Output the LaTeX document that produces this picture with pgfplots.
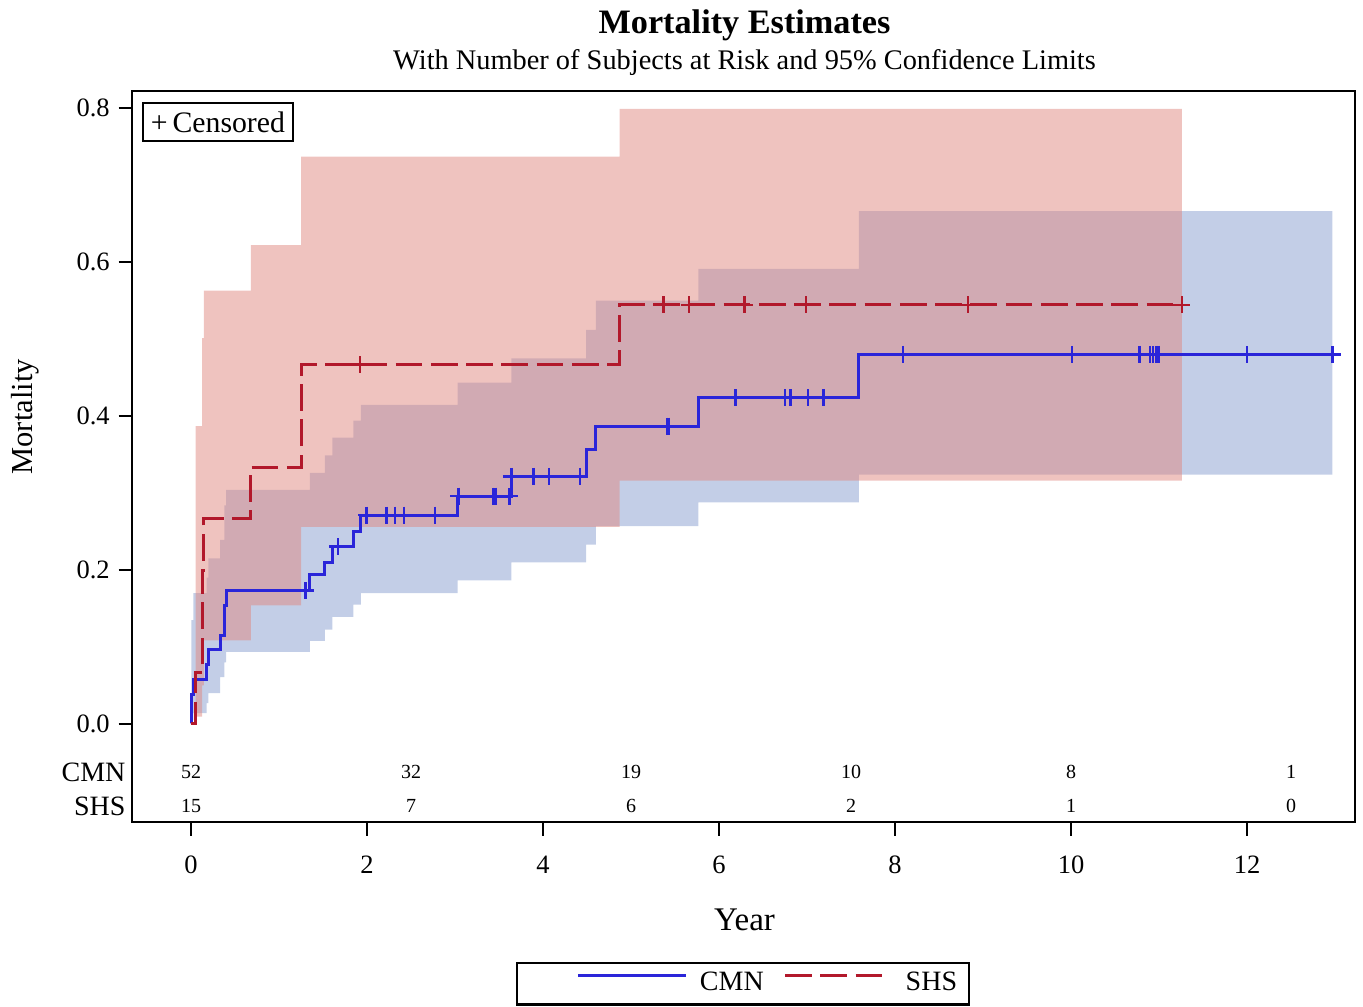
\documentclass[border=0pt]{standalone}
\usepackage{fontspec}
\setmainfont{Liberation Serif}
\usepackage{pgfplots}
\pgfplotsset{compat=1.18}
\usepgfplotslibrary{fillbetween}
\definecolor{cmnline}{RGB}{42,37,217}
\definecolor{shsline}{RGB}{178,24,43}
\definecolor{cmnband}{rgb}{0.53,0.62,0.81}
\definecolor{shsband}{rgb}{0.88,0.53,0.50}
\pgfplotsset{
  cmnleg/.style={legend image code/.code={\path (-19.2pt,0pt); \draw[##1] (0pt,3.4pt) -- (43.2pt,3.4pt); \path (48pt,0pt);}},
  shsleg/.style={legend image code/.code={\path (-8pt,0pt); \draw[##1] (0pt,3.4pt) -- (39.6pt,3.4pt); \path (47.6pt,0pt);}},
}
\begin{document}
\begin{tikzpicture}
\begin{axis}[
  name=main,
  width=489.2pt, height=292.4pt, scale only axis,
  xmin=-0.6705, xmax=13.227, ymin=-0.1273, ymax=0.8221,
  xtick={0,2,4,6,8,10,12}, ytick={0,0.2,0.4,0.6,0.8},
  tick pos=left, tick align=outside, major tick length=5.4pt,
  axis line style={line width=0.85pt},
  every tick/.style={black, line width=0.75pt},
  /pgf/number format/assume math mode=true,
  yticklabel style={/pgf/number format/fixed, /pgf/number format/precision=1, /pgf/number format/fixed zerofill},
  xticklabel style={yshift=-4.8pt},
  ticklabel style={font=\fontsize{10.6}{12}\selectfont},
  clip=false,
  legend columns=2,
  legend style={at={(0.4996,-0.2215)}, anchor=center, draw=black, line width=1.1pt,
    inner xsep=4.8pt, inner ysep=3.1pt, column sep=0pt,
    nodes={inner sep=0pt, text height=8pt, text depth=2.5pt, font=\fontsize{11.2}{13}\selectfont}},
]
% ---- CMN band ----
\addplot[name path=bu, draw=none, const plot, forget plot] coordinates {
(0.003,0.135) (0.026,0.17) (0.178,0.19) (0.197,0.215) (0.33,0.239) (0.38,0.284) (0.40,0.304)
(1.35,0.326) (1.52,0.349) (1.606,0.372) (1.845,0.394) (1.93,0.4145) (3.03,0.4435) (3.64,0.475)
(4.49,0.512) (4.60,0.550) (5.765,0.591) (7.59,0.666) (12.97,0.666)};
\addplot[name path=bl, draw=none, const plot, forget plot] coordinates {
(0.003,0.005) (0.026,0.014) (0.178,0.027) (0.197,0.040) (0.33,0.061) (0.38,0.080) (0.40,0.0936)
(1.35,0.108) (1.52,0.1226) (1.606,0.139) (1.845,0.155) (1.93,0.170) (3.03,0.1866) (3.64,0.210)
(4.49,0.233) (4.60,0.257) (5.765,0.2877) (7.59,0.324) (12.97,0.324)};
\addplot[fill=cmnband, fill opacity=0.5, draw=none, forget plot] fill between[of=bu and bl];
% ---- SHS band ----
\addplot[name path=ru, draw=none, const plot, forget plot] coordinates {
(0.053,0.387) (0.125,0.501) (0.145,0.563) (0.68,0.622) (1.25,0.737) (4.87,0.799) (11.26,0.799)};
\addplot[name path=rl, draw=none, const plot, forget plot] coordinates {
(0.053,0.0095) (0.125,0.05) (0.145,0.1085) (0.68,0.154) (1.25,0.256) (4.87,0.316) (11.26,0.316)};
\addplot[fill=shsband, fill opacity=0.5, draw=none, forget plot] fill between[of=ru and rl];
% ---- CMN line ----
\addplot[cmnline, line width=1.2pt, const plot, mark=none, cmnleg]
coordinates {
(0,0) (0.003,0.0385) (0.026,0.0577) (0.178,0.0769) (0.197,0.0962) (0.33,0.1154) (0.38,0.1538)
(0.40,0.1731) (1.35,0.1938) (1.52,0.2101) (1.606,0.2304) (1.845,0.2495) (1.93,0.2714) (3.03,0.296)
(3.64,0.3216) (4.49,0.356) (4.60,0.387) (5.765,0.4237) (7.59,0.480) (12.97,0.480)};
\addlegendentry{CMN}
% ---- SHS line ----
\addplot[shsline, line width=1.2pt, const plot, mark=none, dash pattern=on 10.7pt off 3.4pt, shsleg]
coordinates {
(0,0) (0.053,0.0667) (0.125,0.2) (0.145,0.2667) (0.68,0.3333) (1.25,0.4667) (4.87,0.5444) (11.26,0.5444)};
\addlegendentry{SHS}
% ---- censored ----
\addplot[only marks, mark=+, mark size=3.4pt, cmnline, mark options={line width=1pt}, forget plot] coordinates {
(1.30,0.1731) (1.67,0.2304) (1.996,0.2714) (2.22,0.2714) (2.32,0.2714) (2.42,0.2714) (2.77,0.2714)
(3.04,0.296) (3.43,0.296) (3.46,0.296) (3.62,0.296) (3.64,0.3216) (3.89,0.3216) (4.07,0.3216) (4.42,0.3216)
(5.41,0.387) (5.43,0.387) (6.19,0.4237) (6.75,0.4237) (6.81,0.4237) (7.01,0.4237) (7.19,0.4237)
(8.09,0.480) (10.01,0.480) (10.78,0.480) (10.90,0.480) (10.93,0.480) (10.97,0.480) (11.0,0.480)
(12.0,0.480) (12.97,0.480)};
\addplot[only marks, mark=+, mark size=3.4pt, shsline, mark options={line width=1pt}, forget plot] coordinates {
(1.92,0.4667) (5.37,0.5444) (5.66,0.5444) (6.29,0.5444) (6.99,0.5444) (8.83,0.5444) (11.26,0.5444)};
% ---- at risk ----
\addplot[only marks, mark=none, nodes near coords, point meta=explicit symbolic,
  nodes near coords style={anchor=center, inner sep=0pt, font=\fontsize{8}{9}\selectfont}, forget plot]
table[meta=n] {
t y n
0 -0.0623 52
2.5 -0.0623 32
5 -0.0623 19
7.5 -0.0623 10
10 -0.0623 8
12.5 -0.0623 1
0 -0.1065 15
2.5 -0.1065 7
5 -0.1065 6
7.5 -0.1065 2
10 -0.1065 1
12.5 -0.1065 0
};
\node[anchor=east, inner sep=0pt, font=\fontsize{11.2}{13}\selectfont] at (axis cs:-0.739,-0.0623) {CMN};
\node[anchor=east, inner sep=0pt, font=\fontsize{11.2}{13}\selectfont] at (axis cs:-0.739,-0.1065) {SHS};
% ---- texts ----
\node[rotate=90, font=\fontsize{12.2}{14}\selectfont] at (axis cs:-1.886,0.399) {Mortality};
\node[font=\fontsize{13.2}{15}\selectfont] at (axis cs:6.29,-0.2545) {Year};
\node[font=\bfseries\fontsize{13.7}{16}\selectfont] at (axis cs:6.29,0.9078) {Mortality Estimates};
\node[font=\fontsize{11.35}{13}\selectfont] at (axis cs:6.29,0.8597) {With Number of Subjects at Risk and 95\% Confidence Limits};
\node[draw, line width=1.1pt, anchor=north west, minimum width=60pt, minimum height=15.2pt, inner sep=0pt,
  font=\fontsize{11.9}{13}\selectfont] at (rel axis cs:0.0078,0.9855) {+\,Censored};
\end{axis}
\path (main.south west) ++(-52.8pt,-73.6pt) coordinate (bl);
\pgfresetboundingbox
\path[use as bounding box] (bl) rectangle ++(545.2pt,402.4pt);
\end{tikzpicture}
\end{document}
